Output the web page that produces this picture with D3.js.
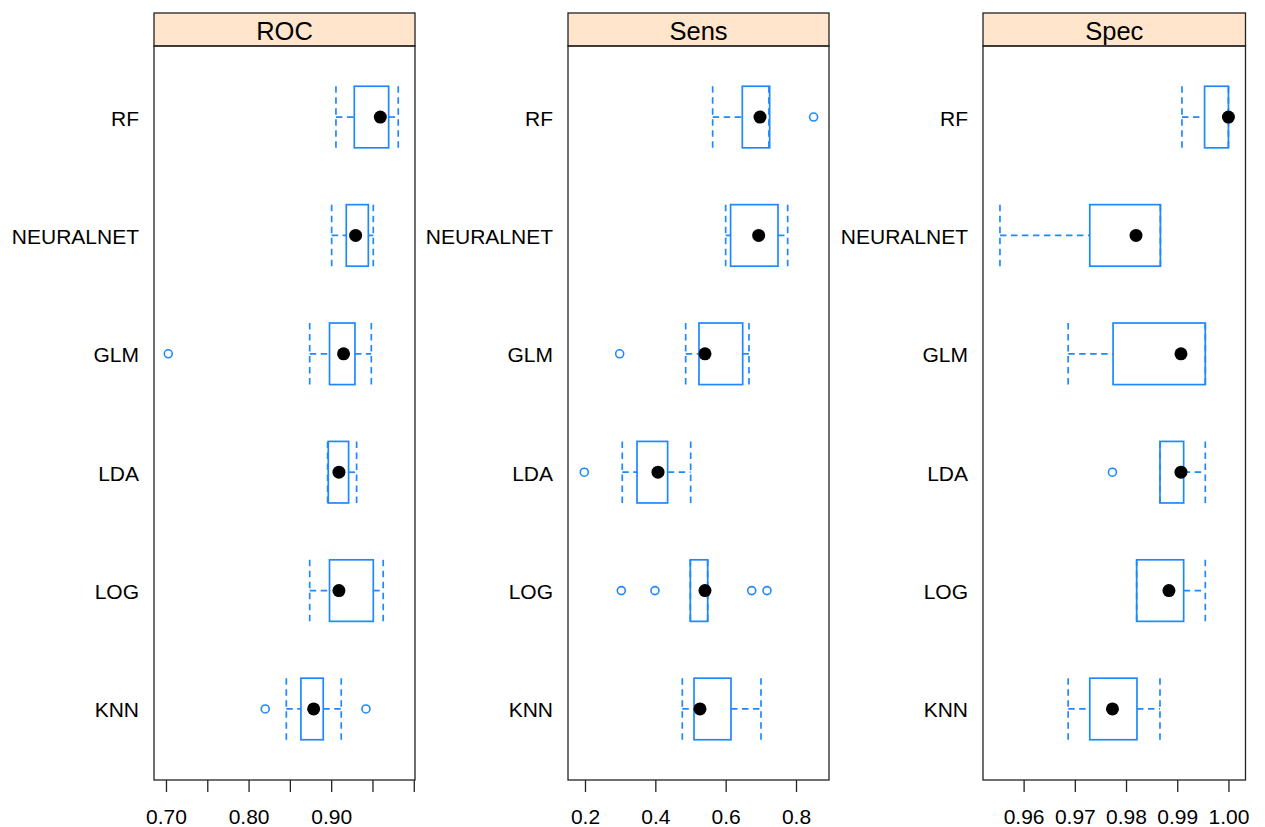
<!DOCTYPE html>
<head>
  <meta charset="utf-8" />
  <script src="https://d3js.org/d3.v7.min.js"></script>
  <style>
    body { margin: 0; background: #fff; }
    text { font-family: "Liberation Sans", Arial, sans-serif; fill: #000; }
    .frame { fill: none; stroke: #222; stroke-width: 1.3px; }
    .strip { fill: #ffe5cc; stroke: #222; stroke-width: 1.3px; }
    .box { fill: none; stroke: #1e88ff; stroke-width: 1.7px; }
    .whisk { stroke: #1e88ff; stroke-width: 1.7px; stroke-dasharray: 6.5,4.5; }
    .out { fill: none; stroke: #1e88ff; stroke-width: 1.6px; }
    .tick line, .domain { stroke: #222; stroke-width: 1.3px; }
  </style>
</head>
<body>
<script>
  // modeles, de bas en haut
  var models = ["KNN", "LOG", "LDA", "GLM", "NEURALNET", "RF"];
  var metrics = ["ROC", "Sens", "Spec"];

  // [min moustache, Q1, mediane, Q3, max moustache] pour chaque modele
  var rocStats = [
    [0.8457, 0.8634, 0.8788, 0.8904, 0.9122],
    [0.874, 0.898, 0.9094, 0.951, 0.963],
    [0.8957, 0.8965, 0.9094, 0.9211, 0.9308],
    [0.874, 0.898, 0.915, 0.9288, 0.9486],
    [0.9006, 0.9183, 0.9296, 0.945, 0.951],
    [0.9058, 0.928, 0.9595, 0.9696, 0.9812]
  ];
  var sensStats = [
    [0.4767, 0.51, 0.527, 0.6151, 0.7004],
    [0.4995, 0.4995, 0.5412, 0.5489, 0.5489],
    [0.306, 0.3479, 0.4076, 0.435, 0.5005],
    [0.4863, 0.5241, 0.5412, 0.6484, 0.6663],
    [0.600, 0.614, 0.6938, 0.7488, 0.7763],
    [0.563, 0.6473, 0.6976, 0.7251, 0.723]
  ];
  var specStats = [
    [0.9687, 0.97292, 0.97735, 0.98214, 0.98663],
    [0.98208, 0.98208, 0.98838, 0.99125, 0.99548],
    [0.98663, 0.98663, 0.99073, 0.99125, 0.99548],
    [0.9687, 0.97747, 0.99073, 0.99548, 0.99548],
    [0.95538, 0.97292, 0.98195, 0.98671, 0.98671],
    [0.99092, 0.99534, 1.0, 1.0, 1.0]
  ];
  // valeurs aberrantes : [modele, valeur]
  var rocOut = [["KNN", 0.8202], ["KNN", 0.9421], ["GLM", 0.7028]];
  var sensOut = [["LOG", 0.3033], ["LOG", 0.399], ["LOG", 0.674], ["LOG", 0.7175],
                 ["LDA", 0.198], ["GLM", 0.2986], ["RF", 0.850]];
  var specOut = [["LDA", 0.97735]];

  var rocTicks = [0.70, 0.75, 0.80, 0.85, 0.90, 0.95, 1.00];
  var rocLabels = [0.70, 0.80, 0.90];
  var sensTicks = [0.2, 0.4, 0.6, 0.8];
  var specTicks = [0.96, 0.97, 0.98, 0.99, 1.00];

  var width = 1265, height = 827;
  var panelTop = 13, stripH = 33, panelBottom = 780;

  var panels = [
    { name: "ROC", left: 154, right: 415, domain: [0.6855, 1.0015], stats: rocStats, out: rocOut,
      ticks: rocTicks, labels: rocLabels, fmt: d3.format(".2f") },
    { name: "Sens", left: 568, right: 829, domain: [0.1517, 0.8938], stats: sensStats, out: sensOut,
      ticks: sensTicks, labels: sensTicks, fmt: d3.format(".1f") },
    { name: "Spec", left: 983, right: 1245.5, domain: [0.95207, 1.00333], stats: specStats, out: specOut,
      ticks: specTicks, labels: specTicks, fmt: d3.format(".2f") }
  ];

  var svg = d3.select("body").append("svg")
    .attr("width", width)
    .attr("height", height);

  var y = d3.scaleLinear().domain([0.4, 6.6]).range([panelBottom, panelTop + stripH]);
  var half = 0.26;

  panels.forEach(function (p) {
    var x = d3.scaleLinear().domain(p.domain).range([p.left, p.right]);
    var g = svg.append("g");

    // bandeau du haut
    g.append("rect").attr("class", "strip")
      .attr("x", p.left).attr("y", panelTop)
      .attr("width", p.right - p.left).attr("height", stripH);
    g.append("text")
      .attr("x", (p.left + p.right) / 2).attr("y", panelTop + stripH / 2 + 10)
      .attr("text-anchor", "middle")
      .style("font-size", "25.5px")
      .text(p.name);

    // cadre
    g.append("rect").attr("class", "frame")
      .attr("x", p.left).attr("y", panelTop + stripH)
      .attr("width", p.right - p.left).attr("height", panelBottom - panelTop - stripH);

    // noms des modeles
    g.selectAll("text.cat")
      .data(models)
      .join("text")
      .attr("class", "cat")
      .attr("x", p.left - 15)
      .attr("y", function (d, i) { return y(i + 1) + 8.5; })
      .attr("text-anchor", "end")
      .style("font-size", "21px")
      .text(function (d) { return d; });

    // axe x
    var axis = d3.axisBottom(x)
      .tickValues(p.ticks)
      .tickSize(12)
      .tickPadding(17)
      .tickFormat(function (d) {
        return p.labels.some(function (l) { return Math.abs(l - d) < 1e-9; }) ? p.fmt(d) : "";
      });
    var ax = g.append("g").attr("transform", "translate(0," + panelBottom + ")").call(axis);
    ax.select(".domain").remove();
    ax.selectAll("text").style("font-size", "21px").attr("fill", "#000").attr("dy", "0.72em");

    // boites
    var boxes = g.selectAll("g.bw")
      .data(p.stats)
      .join("g")
      .attr("class", "bw");

    boxes.append("line").attr("class", "whisk")
      .attr("x1", function (d) { return x(d[0]); }).attr("x2", function (d) { return x(d[1]); })
      .attr("y1", function (d, i) { return y(i + 1); }).attr("y2", function (d, i) { return y(i + 1); });
    boxes.append("line").attr("class", "whisk")
      .attr("x1", function (d) { return x(d[3]); }).attr("x2", function (d) { return x(d[4]); })
      .attr("y1", function (d, i) { return y(i + 1); }).attr("y2", function (d, i) { return y(i + 1); });
    boxes.append("line").attr("class", "whisk")
      .attr("x1", function (d) { return x(d[0]); }).attr("x2", function (d) { return x(d[0]); })
      .attr("y1", function (d, i) { return y(i + 1 + half); }).attr("y2", function (d, i) { return y(i + 1 - half); });
    boxes.append("line").attr("class", "whisk")
      .attr("x1", function (d) { return x(d[4]); }).attr("x2", function (d) { return x(d[4]); })
      .attr("y1", function (d, i) { return y(i + 1 + half); }).attr("y2", function (d, i) { return y(i + 1 - half); });

    boxes.append("rect").attr("class", "box")
      .attr("x", function (d) { return x(d[1]); })
      .attr("width", function (d) { return x(d[3]) - x(d[1]); })
      .attr("y", function (d, i) { return y(i + 1 + half); })
      .attr("height", function () { return y(1 - half) - y(1 + half); });

    boxes.append("circle")
      .attr("cx", function (d) { return x(d[2]); })
      .attr("cy", function (d, i) { return y(i + 1); })
      .attr("r", 6.5)
      .attr("fill", "#000");

    // valeurs aberrantes
    g.selectAll("circle.out")
      .data(p.out)
      .join("circle")
      .attr("class", "out")
      .attr("cx", function (d) { return x(d[1]); })
      .attr("cy", function (d) { return y(models.indexOf(d[0]) + 1); })
      .attr("r", 4);
  });
</script>
</body>
